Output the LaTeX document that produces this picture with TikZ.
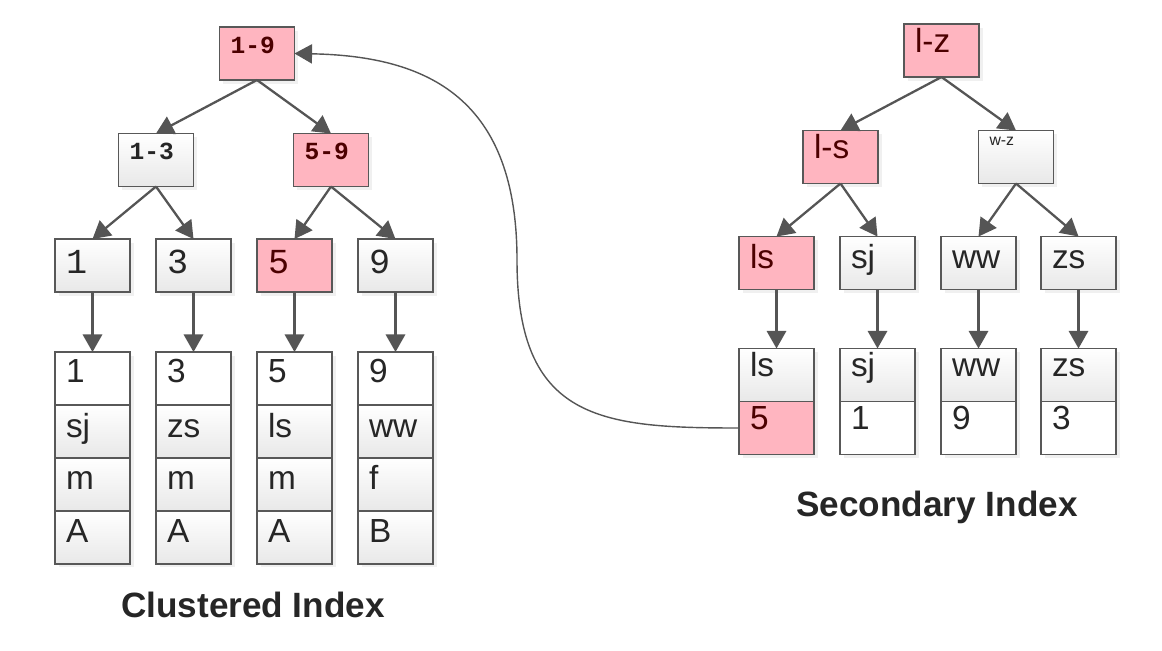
\documentclass[tikz,border=0pt]{standalone}
\usepackage{fontspec}
\setmainfont{Liberation Sans}
\newfontfamily\pixmono{Liberation Mono}
\usetikzlibrary{arrows.meta,positioning,shadows}

\definecolor{boxline}{HTML}{585858}
\definecolor{hitpink}{HTML}{FFB5C0}
\definecolor{arrowgray}{HTML}{555555}

\tikzset{
  cell/.style={draw=boxline, line width=0.9pt, outer sep=0pt, inner xsep=0.22cm, inner ysep=0pt,
    text width=1.06cm, align=left, text height=0.64cm, text depth=0.42cm,
    font=\fontsize{19}{19}\selectfont, text=black!85,
    drop shadow={opacity=0.12, shadow xshift=2pt, shadow yshift=-2pt}},
  gcell/.style={cell, top color=white, bottom color=black!9},
  wcell/.style={cell, fill=white},
  pcell/.style={cell, fill=hitpink, text=red!30!black},
  inner/.style={text height=0.52cm, text depth=0.54cm, font=\pixmono\bfseries\fontsize{14}{14}\selectfont},
  leafno/.style={font=\pixmono\fontsize{20}{20}\selectfont, text height=0.68cm, text depth=0.38cm},
  tree/.style={draw=arrowgray, line width=1.3pt, -{Triangle[length=10pt,width=11pt]}},
  title/.style={font=\bfseries\fontsize{20}{20}\selectfont, text=black!85}
}

\begin{document}
\begin{tikzpicture}[x=0.02cm, y=-0.02cm]
\useasboundingbox (0,0) rectangle (1162,650);

% clustered index tree
\node[pcell, inner] (r19) at (257,53.5) {1-9};
\node[gcell, inner] (n13) at (156,160) {1-3};
\node[pcell, inner] (n59) at (331,160) {5-9};
\node[gcell, leafno] (l1) at (92.5,265.5) {1};
\node[gcell, leafno] (l3) at (193.5,265.5) {3};
\node[pcell, leafno] (l5) at (294.5,265.5) {5};
\node[gcell, leafno] (l9) at (395.5,265.5) {9};

% rows of the clustered index
\node[wcell, text height=0.6cm, text depth=0.46cm] (c1a) at (92.5,378.5) {1};
\node[gcell, below=0pt of c1a] (c1b) {sj};
\node[gcell, below=0pt of c1b] (c1c) {m};
\node[gcell, below=0pt of c1c] (c1d) {A};
\node[wcell, text height=0.6cm, text depth=0.46cm] (c3a) at (193.5,378.5) {3};
\node[gcell, below=0pt of c3a] (c3b) {zs};
\node[gcell, below=0pt of c3b] (c3c) {m};
\node[gcell, below=0pt of c3c] (c3d) {A};
\node[wcell, text height=0.6cm, text depth=0.46cm] (c5a) at (294.5,378.5) {5};
\node[gcell, below=0pt of c5a] (c5b) {ls};
\node[gcell, below=0pt of c5b] (c5c) {m};
\node[gcell, below=0pt of c5c] (c5d) {A};
\node[wcell, text height=0.6cm, text depth=0.46cm] (c9a) at (395.5,378.5) {9};
\node[gcell, below=0pt of c9a] (c9b) {ww};
\node[gcell, below=0pt of c9b] (c9c) {f};
\node[gcell, below=0pt of c9c] (c9d) {B};

\draw[tree] (r19.south) -- (n13.north);
\draw[tree] (r19.south) -- (n59.north);
\draw[tree] (n13.south) -- (l1.north);
\draw[tree] (n13.south) -- (l3.north);
\draw[tree] (n59.south) -- (l5.north);
\draw[tree] (n59.south) -- (l9.north);
\draw[tree] (l1) -- (c1a);
\draw[tree] (l3) -- (c3a);
\draw[tree] (l5) -- (c5a);
\draw[tree] (l9) -- (c9a);

\node[title] (ctitle) at (253,605) {Clustered Index};

% secondary index tree
\node[pcell, text height=0.56cm, text depth=0.5cm] (rlz) at (941.5,50.5) {l-z};
\node[pcell, text height=0.56cm, text depth=0.5cm] (nls) at (840.5,157) {l-s};
\node[gcell, text height=0.3cm, text depth=0.76cm, font=\fontsize{9}{9}\selectfont] (nwz) at (1016,157) {w-z};
\node[pcell] (sls) at (776.5,263) {ls};
\node[gcell] (ssj) at (877.5,263) {sj};
\node[gcell] (sww) at (978.5,263) {ww};
\node[gcell] (szs) at (1078.5,263) {zs};

% rows of the secondary index
\node[gcell, text height=0.56cm, text depth=0.5cm] (rls) at (776.5,375) {ls};
\node[pcell, below=0pt of rls, text height=0.56cm, text depth=0.5cm] (r5) {5};
\node[gcell, text height=0.56cm, text depth=0.5cm] (rsj) at (877.5,375) {sj};
\node[wcell, below=0pt of rsj, text height=0.56cm, text depth=0.5cm] (r1) {1};
\node[gcell, text height=0.56cm, text depth=0.5cm] (rww) at (978.5,375) {ww};
\node[wcell, below=0pt of rww, text height=0.56cm, text depth=0.5cm] (r9) {9};
\node[gcell, text height=0.56cm, text depth=0.5cm] (rzs) at (1078.5,375) {zs};
\node[wcell, below=0pt of rzs, text height=0.56cm, text depth=0.5cm] (r3) {3};

\draw[tree] (rlz.south) -- (nls.north);
\draw[tree] (rlz.south) -- (nwz.north);
\draw[tree] (nls.south) -- (sls.north);
\draw[tree] (nls.south) -- (ssj.north);
\draw[tree] (nwz.south) -- (sww.north);
\draw[tree] (nwz.south) -- (szs.north);
\draw[tree] (sls) -- (rls);
\draw[tree] (ssj) -- (rsj);
\draw[tree] (sww) -- (rww);
\draw[tree] (szs) -- (rzs);

\node[title] (stitle) at (937,507) {Secondary Index};

% back pointer from the secondary index to the clustered root
\draw[draw=arrowgray, line width=0.8pt, -{Triangle[length=10pt,width=11pt]}]
  (r5.west) .. controls (600,428) and (517,420) .. (517,260)
  .. controls (517,100) and (430,56) .. (r19.east);
\end{tikzpicture}
\end{document}
